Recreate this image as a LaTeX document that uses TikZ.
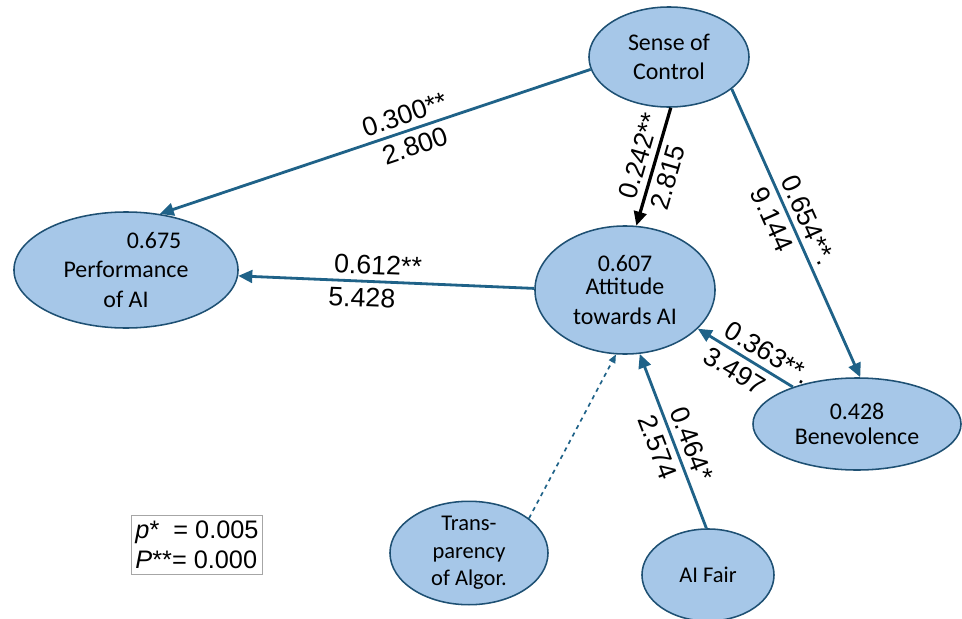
\documentclass[tikz,border=0pt]{standalone}
\usepackage{fontspec}
\setmainfont{Liberation Sans}
\newfontfamily\nodefont{Carlito}
\usetikzlibrary{arrows.meta, shapes.geometric, positioning}
\definecolor{pathblue}{RGB}{31,98,136}
\definecolor{constfill}{RGB}{166,199,232}
\definecolor{constline}{RGB}{30,80,115}

\begin{document}
\begin{tikzpicture}[
    x=0.025cm, y=-0.025cm,
    construct/.style={
      ellipse, draw=constline, line width=1.1pt, fill=constfill,
      inner sep=0pt, align=center,
      font=\nodefont\fontsize{17}{21}\selectfont
    },
    effect/.style={-{Triangle[length=10pt,width=9pt]}, line width=2pt, draw=pathblue},
    coef/.style={font=\fontsize{19}{21}\selectfont, sloped, inner sep=4pt}
  ]
  \useasboundingbox (0,0) rectangle (962,619);

  %% ===== constructs =====
  \node[construct, minimum width=4cm, minimum height=2.5cm]
    (soc) at (669,57) {Sense of\\Control};
  \node[construct, minimum width=5.6cm, minimum height=2.9cm]
    (perf) at (126,270) {\hspace*{1.4cm}0.675\\Performance\\of AI};
  \node[construct, minimum width=4.5cm, minimum height=3.2cm]
    (att) at (625,290) {0.607\\[-5pt]Attitude\\towards AI};
  \node[construct, minimum width=5.2cm, minimum height=2.3cm]
    (ben) at (857,424) {0.428\\[-3pt]Benevolence};
  \node[construct, minimum width=3.95cm, minimum height=2.3cm,
        font=\nodefont\fontsize{16}{19.5}\selectfont]
    (trans) at (469,553) {Trans-\\parency\\of Algor.};
  \node[construct, minimum width=3.3cm, minimum height=2.3cm,
        font=\nodefont\fontsize{16}{19.5}\selectfont]
    (fair) at (708,575) {AI Fair};

  %% ===== paths =====
  \draw[effect] (soc.189) -- (perf.59)
    node[coef, above, pos=0.42] {0.300**}
    node[coef, below, pos=0.42] {2.800};
  \draw[effect, draw=black, line width=2.3pt] (soc.-88) -- (att.80)
    node[coef, above, pos=0.45] {0.242**}
    node[coef, below, pos=0.55] {2.815};
  \draw[effect] (soc.-27) -- (ben.86)
    node[coef, above, pos=0.48] {0.654**.}
    node[coef, below, pos=0.43] {9.144};
  \draw[effect] (att.179) -- (perf.-3)
    node[coef, above, pos=0.53] {0.612**}
    node[coef, below, pos=0.58] {5.428};
  \draw[effect] (ben.150) -- (att.-28)
    node[coef, above, pos=0.35] {0.363**.}
    node[coef, below, pos=0.52] {3.497};
  \draw[effect] (fair.92) -- (att.-77)
    node[coef, above, pos=0.45] {0.464*}
    node[coef, below, pos=0.5] {2.574};
  \draw[-{Triangle[length=6pt,width=5pt]}, line width=1.2pt, pathblue, dashed]
    (trans.30) -- (att.-98);

  %% ===== legend =====
  \node[draw=gray!70, align=left, inner sep=2pt,
        minimum width=3.28cm, minimum height=1.48cm,
        font=\fontsize{18}{21}\selectfont]
    (legend) at (197,545) {\textit{p}*\ \ = 0.005\\\textit{P}**= 0.000};
\end{tikzpicture}
\end{document}
